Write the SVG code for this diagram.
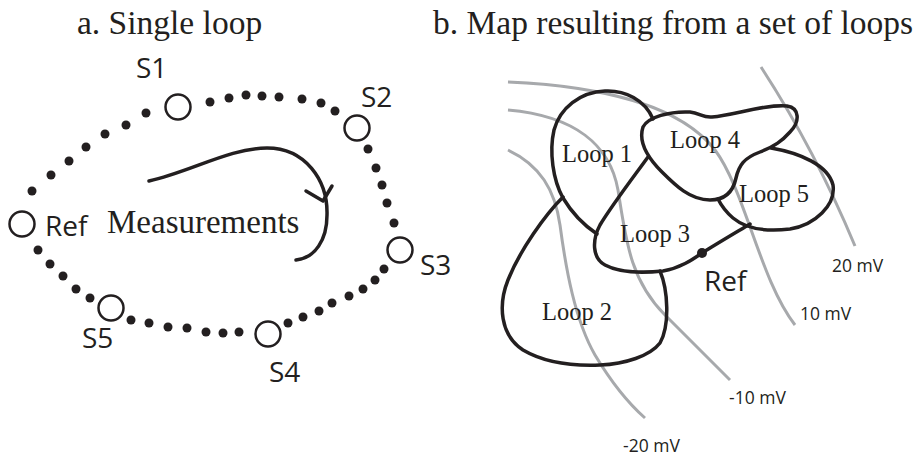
<svg xmlns="http://www.w3.org/2000/svg" width="918" height="456" viewBox="0 0 918 456">
<style>
.title{font-family:"Liberation Serif","Times New Roman",serif;font-size:33.5px;fill:#231f20}
.serif{font-family:"Liberation Serif","Times New Roman",serif;fill:#231f20}
.sans{font-family:"Open Sans","DejaVu Sans",sans-serif;fill:#231f20}
.sensor{fill:none;stroke:#231f20;stroke-width:2.5}
.dot{fill:#231f20}
.loop{fill:none;stroke:#231f20;stroke-width:3.5;stroke-linecap:round;stroke-linejoin:round}
.iso{fill:none;stroke:#a7a9ac;stroke-width:3}
.lbl{font-size:24.5px}
.mv{font-size:17.5px}
</style>
<rect width="918" height="456" fill="#fff"/>
<text class="title" x="77" y="34">a. Single loop</text>
<text class="title" x="433" y="34">b. Map resulting from a set of loops</text>

<g id="connectors-a">
<g class="dot">
<circle cx="32" cy="191" r="4.5"/><circle cx="51" cy="175" r="4.5"/><circle cx="69" cy="161" r="4.5"/><circle cx="86" cy="147" r="4.5"/><circle cx="105" cy="134" r="4.5"/><circle cx="126" cy="125" r="4.5"/><circle cx="146" cy="113" r="4.5"/>
<circle cx="210" cy="102" r="4.5"/><circle cx="229" cy="98" r="4.5"/><circle cx="246" cy="95" r="4.5"/><circle cx="262" cy="96" r="4.5"/><circle cx="279" cy="97" r="4.5"/><circle cx="302" cy="99" r="4.5"/><circle cx="321" cy="103" r="4.5"/><circle cx="335" cy="111" r="4.5"/>
<circle cx="368" cy="149" r="4.5"/><circle cx="376" cy="168" r="4.5"/><circle cx="382" cy="185" r="4.5"/><circle cx="387" cy="203" r="4.5"/><circle cx="394" cy="223" r="4.5"/>
<circle cx="384" cy="269" r="4.5"/><circle cx="375" cy="280" r="4.5"/><circle cx="363" cy="289" r="4.5"/><circle cx="349" cy="296" r="4.5"/><circle cx="332" cy="303" r="4.5"/><circle cx="319" cy="311" r="4.5"/><circle cx="303" cy="317" r="4.5"/><circle cx="288" cy="323" r="4.5"/>
<circle cx="239" cy="332" r="4.5"/><circle cx="223" cy="333" r="4.5"/><circle cx="206" cy="332" r="4.5"/><circle cx="187" cy="328" r="4.5"/><circle cx="168" cy="327" r="4.5"/><circle cx="149" cy="323" r="4.5"/><circle cx="131" cy="320" r="4.5"/>
<circle cx="90" cy="298" r="4.5"/><circle cx="76" cy="289" r="4.5"/><circle cx="63" cy="276" r="4.5"/><circle cx="50" cy="264" r="4.5"/><circle cx="38" cy="250" r="4.5"/>
</g>
<g id="measure-arrow" class="loop">
<path d="M149,181 C190,172 230,148 267,148 C305,148 328,180 327,215 C327,240 315,258 296,260"/>
<polyline points="306,191 323,201 332,186"/>
</g>
</g>
<text class="serif" x="107" y="233" font-size="33">Measurements</text>

<g id="ref-a"><circle class="sensor" cx="22" cy="224" r="12.5"/><text class="sans" x="45" y="236" font-size="28">Ref</text></g>
<g id="s1"><circle class="sensor" cx="178" cy="107" r="12.5"/><text class="sans" x="136" y="78" font-size="28">S1</text></g>
<g id="s2"><circle class="sensor" cx="357" cy="128" r="12.5"/><text class="sans" x="361" y="107" font-size="28">S2</text></g>
<g id="s3"><circle class="sensor" cx="400" cy="250" r="12.5"/><text class="sans" x="420" y="275" font-size="28">S3</text></g>
<g id="s4"><circle class="sensor" cx="268" cy="334" r="12.5"/><text class="sans" x="269" y="382" font-size="28">S4</text></g>
<g id="s5"><circle class="sensor" cx="111" cy="308" r="12.5"/><text class="sans" x="82" y="348" font-size="28">S5</text></g>

<g id="isolines">
<path class="iso" d="M761,67 Q815,150 855,246"/>
<path class="iso" d="M508,82 C600,86 680,105 715,150 C745,190 760,280 795,325"/>
<path class="iso" d="M508,110 C575,116 610,145 618,190 C626,240 630,280 665,315 S715,365 730,380"/>
<path class="iso" d="M508,150 C540,165 555,190 560,225 C566,270 575,320 595,355 C610,380 628,403 645,418"/>
<text class="sans mv" x="832" y="272">20 mV</text>
<text class="sans mv" x="800" y="320">10 mV</text>
<text class="sans mv" x="729" y="404">-10 mV</text>
<text class="sans mv" x="623" y="452">-20 mV</text>
</g>

<g id="loop1"><path class="loop" d="M653,119 C645,100 625,90 605,91 C580,92 560,108 554,130 C549,152 553,180 563,198 C572,213 585,226 597,234"/><text class="serif lbl" x="562" y="162">Loop 1</text></g>
<g id="loop2"><path class="loop" d="M563,197 C545,215 520,250 508,280 C498,305 500,335 523,350 C545,363 575,366 600,365 C625,364 650,356 660,343 C670,325 668,290 660,271"/><text class="serif lbl" x="542" y="320">Loop 2</text></g>
<g id="loop3"><path class="loop" d="M648,157 C635,175 612,205 600,225 C592,240 592,258 605,265 C620,273 645,273 663,271 C680,268 692,260 702,253 C718,243 735,233 750,224"/><text class="serif lbl" x="620" y="242">Loop 3</text></g>
<g id="loop4"><path class="loop" d="M643,127 C648,117 670,111 690,112 C700,113 703,118 712,117 C735,115 765,104 787,106 C800,108 800,122 790,132 C782,141 775,146 760,152 C744,158 739,165 736,178 C733,192 725,200 710,200 C690,200 675,185 662,172 C648,158 638,142 643,127 Z"/><text class="serif lbl" x="670" y="148">Loop 4</text></g>
<g id="loop5"><path class="loop" d="M771,148 C800,153 828,165 833,185 C836,205 815,225 790,229 C765,232 745,228 733,218 C726,212 721,205 718,199"/><text class="serif lbl" x="739" y="202">Loop 5</text></g>
<g id="ref-b"><circle class="dot" cx="702" cy="253" r="5"/><text class="sans" x="704" y="291" font-size="28">Ref</text></g>
</svg>
